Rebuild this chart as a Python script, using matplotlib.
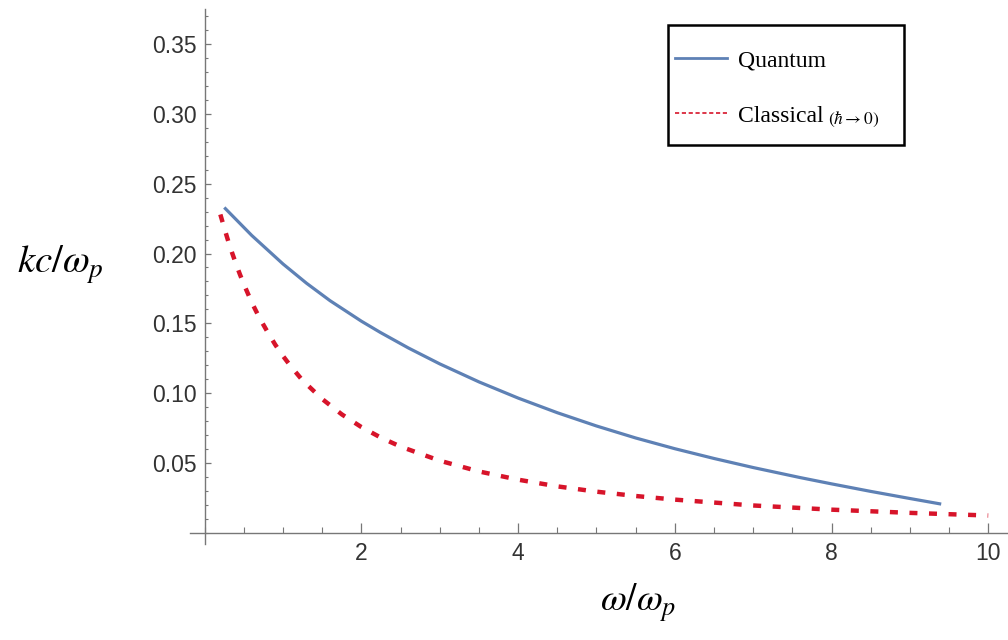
import matplotlib
matplotlib.use("Agg")
import matplotlib.pyplot as plt
from matplotlib.patches import Rectangle
from matplotlib.lines import Line2D
from matplotlib.ticker import MultipleLocator

# ---- data ----
omega_quantum = [0.25, 0.6, 1.0, 1.3, 1.6, 2.0, 2.24, 2.6, 3.0, 3.5, 4.0, 4.5, 5.0,
                 5.5, 6.0, 6.5, 7.0, 7.6, 8.0, 8.5, 9.0, 9.4]
kc_quantum = [0.233, 0.213, 0.1925, 0.1787, 0.1662, 0.1515, 0.1435, 0.1323, 0.1209,
              0.108, 0.0964, 0.0859, 0.0764, 0.0678, 0.0601, 0.0531, 0.0466, 0.0394,
              0.0349, 0.0295, 0.0244, 0.0204]

omega_classical = [0.2, 0.25, 0.3, 0.35, 0.4, 0.45, 0.5, 0.6, 0.7, 0.8, 0.9, 1.0, 1.1,
                   1.25, 1.5, 1.75, 2.0, 2.25, 2.5, 3.0, 3.5, 4.0, 4.5, 5.0, 5.5, 6.0,
                   7.0, 8.0, 9.0, 10.0]
kc_classical = [0.228, 0.2183, 0.209, 0.2005, 0.1925, 0.185, 0.178, 0.165, 0.1538,
                0.144, 0.1347, 0.1265, 0.1191, 0.109, 0.0957, 0.0847, 0.0756, 0.068,
                0.0616, 0.0515, 0.0438, 0.0379, 0.0331, 0.0293, 0.0262, 0.0236,
                0.0194, 0.0164, 0.0141, 0.0122]

x_ticks = [2, 4, 6, 8, 10]
y_ticks = [0.05, 0.10, 0.15, 0.20, 0.25, 0.30, 0.35]
y_tick_labels = ["0.05", "0.10", "0.15", "0.20", "0.25", "0.30", "0.35"]
label_quantum = "Quantum"
label_classical = "Classical"
label_limit = r"$(\hbar\rightarrow 0)$"

# ---- style ----
plt.rcParams["mathtext.fontset"] = "stix"
tick_font = ["Liberation Sans", "DejaVu Sans"]
serif_font = ["Liberation Serif", "DejaVu Serif"]
blue = "#5E81B5"
red = "#D7142A"
axis_col = "#777777"

W, H = 1008, 640
fig = plt.figure(figsize=(W / 100, H / 100), dpi=100)
ax = fig.add_axes([189.8 / W, 96.3 / H, 818 / W, 534.3 / H])

ax.plot(omega_quantum, kc_quantum, color=blue, lw=2.3, solid_capstyle="butt",
        solid_joinstyle="round", label=label_quantum)
ax.plot(omega_classical, kc_classical, color=red, lw=3.2, dashes=(1.8, 2.6),
        dash_capstyle="butt", label=label_classical)

ax.set_xlim(-0.19, 10.25)
ax.set_ylim(-0.008, 0.375)

for s in ["top", "right"]:
    ax.spines[s].set_visible(False)
ax.spines["left"].set_position(("data", 0))
ax.spines["bottom"].set_position(("data", 0))
for s in ["left", "bottom"]:
    ax.spines[s].set_color(axis_col)
    ax.spines[s].set_linewidth(1.0)

ax.set_xticks(x_ticks)
ax.set_xticklabels([str(v) for v in x_ticks])
ax.set_yticks(y_ticks)
ax.set_yticklabels(y_tick_labels)
ax.xaxis.set_minor_locator(MultipleLocator(0.5))
ax.yaxis.set_minor_locator(MultipleLocator(0.01))

ax.tick_params(axis="x", which="major", direction="in", length=7, width=0.9,
               color=axis_col, pad=7, labelsize=16.5, labelcolor="#333333")
ax.tick_params(axis="x", which="minor", direction="in", length=4.5, width=0.8,
               color=axis_col)
ax.tick_params(axis="y", which="major", direction="in", length=4.5, width=0.9,
               color=axis_col, pad=5.5, labelsize=16.5, labelcolor="#333333")
ax.tick_params(axis="y", which="minor", direction="in", length=2.5, width=0.8,
               color=axis_col)
for lab in ax.get_xticklabels() + ax.get_yticklabels():
    lab.set_family(tick_font)

# axis labels
fig.text(60 / W, 1 - 265 / H, r"$kc/\omega_p$", fontsize=28, ha="center", va="center")
fig.text(638 / W, 1 - 603 / H, r"$\omega/\omega_p$", fontsize=27, ha="center", va="center")

# legend
h_q = Line2D([], [], color=blue, lw=2.0)
h_c = Line2D([], [], color=red, lw=1.2, dashes=(2.5, 1.6))
leg = ax.legend([h_q, h_c], [label_quantum, label_classical], loc="upper left",
                bbox_to_anchor=(675 / W, 1 - 50 / H), bbox_transform=fig.transFigure,
                frameon=False, borderpad=0, borderaxespad=0, handlelength=2.2,
                handletextpad=0.45, labelspacing=1.42,
                prop={"family": serif_font, "size": 17})

fig.add_artist(Rectangle((668 / W, 1 - 145 / H), 236 / W, 120 / H,
                         transform=fig.transFigure, fill=False,
                         edgecolor="black", lw=1.8))

fig.canvas.draw()
renderer = fig.canvas.get_renderer()
t = leg.get_texts()[1]
bb = t.get_window_extent(renderer)
_, _, d = renderer.get_text_width_height_descent(t.get_text(), t.get_fontproperties(), ismath=False)
fig.text((bb.x1 + 5) / W, (bb.y0 + d + 3) / H, label_limit, fontsize=12.5,
         ha="left", va="baseline")

fig.savefig("out.png", dpi=100)
